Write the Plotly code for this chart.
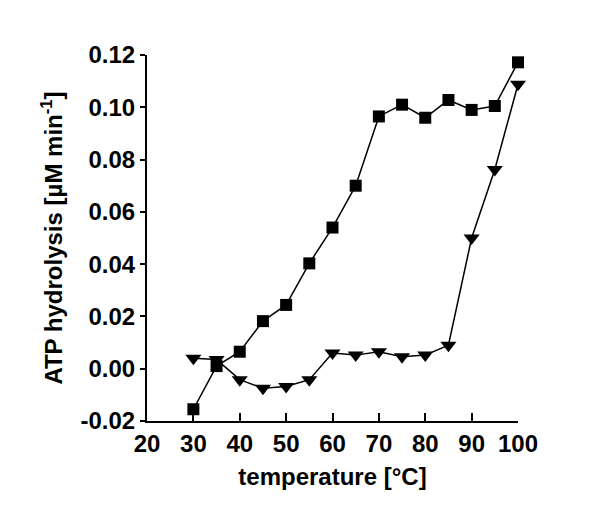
import plotly.graph_objects as go

temperature = [30, 35, 40, 45, 50, 55, 60, 65, 70, 75, 80, 85, 90, 95, 100]
squares = [-0.0155, 0.0010, 0.0065, 0.0182, 0.0244, 0.0403, 0.0540, 0.0700, 0.0965, 0.1010, 0.0960, 0.1028, 0.0990, 0.1005, 0.1172]
triangles = [0.0040, 0.0035, -0.0042, -0.0075, -0.0068, -0.0042, 0.0060, 0.0052, 0.0065, 0.0046, 0.0052, 0.0090, 0.0500, 0.0762, 0.1088]

x_ticks = [20, 30, 40, 50, 60, 70, 80, 90, 100]
y_ticks = [-0.02, 0.00, 0.02, 0.04, 0.06, 0.08, 0.10, 0.12]

FONT = "Arial, 'Liberation Sans', sans-serif"

fig = go.Figure()
fig.add_trace(go.Scatter(
    x=temperature, y=squares, mode="lines+markers",
    line=dict(color="black", width=1.5),
    marker=dict(symbol="square", size=12, color="black"),
    cliponaxis=False, showlegend=False))
fig.add_trace(go.Scatter(
    x=temperature, y=triangles, mode="lines+markers",
    line=dict(color="black", width=1.5),
    marker=dict(symbol="triangle-down", size=14, color="black"),
    cliponaxis=False, showlegend=False))

fig.update_layout(
    width=600, height=527,
    margin=dict(l=139, r=90, t=47, b=114, autoexpand=False),
    paper_bgcolor="white", plot_bgcolor="white",
    font=dict(family=FONT, color="black"),
    xaxis=dict(
        range=[20, 100], tickvals=x_ticks, ticktext=[str(v) for v in x_ticks],
        automargin=False,
        showline=True, linecolor="black", linewidth=2, showgrid=False, zeroline=False,
        ticks="inside", ticklen=8, tickwidth=2, tickcolor="black",
        tickfont=dict(family=FONT, size=24, weight="bold", color="black"),
        title=dict(text="temperature [°C]", font=dict(family=FONT, size=24, weight="bold", color="black"), standoff=12),
    ),
    yaxis=dict(
        range=[-0.02, 0.12], tickvals=y_ticks, ticktext=[f"{v:.2f}" for v in y_ticks],
        automargin=False,
        showline=True, linecolor="black", linewidth=2, showgrid=False, zeroline=False,
        ticks="outside", ticklen=5, tickwidth=2, tickcolor="black",
        tickfont=dict(family=FONT, size=24, weight="bold", color="black"),
        title=dict(text="ATP hydrolysis [µM min<sup>-1</sup>]", font=dict(family=FONT, size=24, weight="bold", color="black"), standoff=11),
    ),
)

fig.write_html("out.html")
